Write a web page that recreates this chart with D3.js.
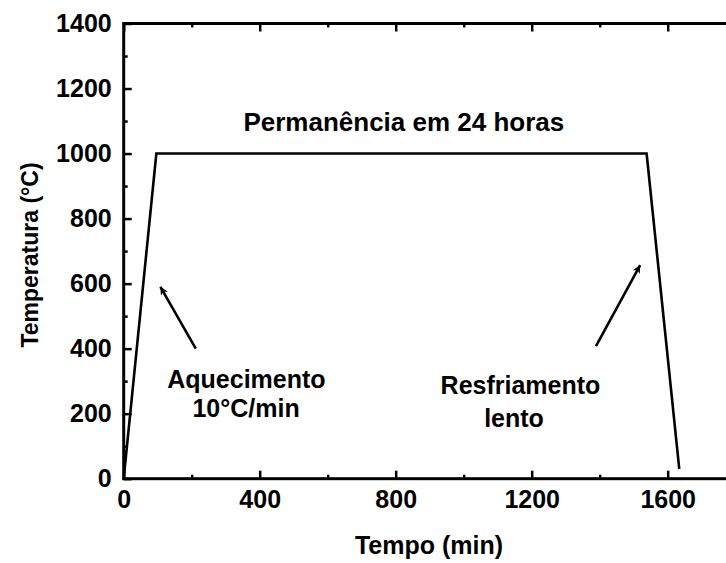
<!DOCTYPE html>
<html>
<head>
<meta charset="utf-8">
<script src="https://cdn.jsdelivr.net/npm/d3@7"></script>
<style>
  body { margin: 0; background: #fff; }
  text { font-family: "Liberation Sans", Arial, sans-serif; font-weight: bold; fill: #000; }
</style>
</head>
<body>
<svg id="chart"></svg>
<script>
// heat treatment profile (time in min, temperature in °C)
const time = [0, 96, 1538, 1634];
const temp = [0, 1000, 1000, 30];

const xMajor = [0, 400, 800, 1200, 1600];
const xMinor = [200, 600, 1000, 1400, 1800];
const yMajor = [0, 200, 400, 600, 800, 1000, 1200, 1400];
const yMinor = [100, 300, 500, 700, 900, 1100, 1300];

// arrows: tail -> head, in data units
const arrowFrom = [[212, 400], [1389, 408]];
const arrowTo = [[108, 590], [1519, 657]];

// annotation text, centred at [time, temp]
const noteText = ["Permanência em 24 horas", "Aquecimento", "10°C/min", "Resfriamento", "lento"];
const notePos = [[824, 1069], [361, 279], [360, 191], [1167, 260], [1148, 160]];
const noteSize = [26, 25, 25, 25, 25];

const width = 726, height = 563;
const svg = d3.select("#chart").attr("width", width).attr("height", height);

const x = d3.scaleLinear().domain([0, 1800]).range([123.7, 735.7]);
const y = d3.scaleLinear().domain([0, 1400]).range([478.7, 23.5]);

// frame
svg.append("rect")
    .attr("x", x(0)).attr("y", y(1400))
    .attr("width", x(1800) - x(0)).attr("height", y(0) - y(1400))
    .attr("fill", "none").attr("stroke", "#000").attr("stroke-width", 3);

function tickAxis(axis, vals, size, pad, labels) {
    return axis.tickValues(vals).tickSizeInner(-size).tickSizeOuter(0).tickPadding(pad)
        .tickFormat(labels ? d3.format("d") : "");
}
function styleAxis(g) {
    g.select(".domain").remove();
    g.selectAll(".tick line").attr("stroke", "#000").attr("stroke-width", 2.5);
    g.selectAll(".tick text").style("font-size", "25px");
}

// bottom axis
svg.append("g").attr("transform", `translate(0,${y(0)})`)
    .call(tickAxis(d3.axisBottom(x), xMajor, 8, 12, true)).call(styleAxis);
svg.append("g").attr("transform", `translate(0,${y(0)})`)
    .call(tickAxis(d3.axisBottom(x), xMinor, 4, 0, false)).call(styleAxis);
// top axis
svg.append("g").attr("transform", `translate(0,${y(1400)})`)
    .call(tickAxis(d3.axisTop(x), xMajor, 8, 0, false)).call(styleAxis);
svg.append("g").attr("transform", `translate(0,${y(1400)})`)
    .call(tickAxis(d3.axisTop(x), xMinor, 4, 0, false)).call(styleAxis);
// left axis
svg.append("g").attr("transform", `translate(${x(0)},0)`)
    .call(tickAxis(d3.axisLeft(y), yMajor, 8, 12, true)).call(styleAxis);
svg.append("g").attr("transform", `translate(${x(0)},0)`)
    .call(tickAxis(d3.axisLeft(y), yMinor, 4, 0, false)).call(styleAxis);

// profile line
const line = d3.line().x(d => x(d[0])).y(d => y(d[1]));
svg.append("path")
    .datum(d3.zip(time, temp))
    .attr("d", line)
    .attr("fill", "none").attr("stroke", "#000")
    .attr("stroke-width", 2.6).attr("stroke-linejoin", "miter");

// arrows
svg.append("defs").append("marker")
    .attr("id", "head").attr("viewBox", "0 0 10 10")
    .attr("refX", 10).attr("refY", 5)
    .attr("markerWidth", 12).attr("markerHeight", 8)
    .attr("markerUnits", "userSpaceOnUse").attr("orient", "auto")
    .append("path").attr("d", "M0,0 L10,5 L0,10 L3,5 Z").attr("fill", "#000");

svg.selectAll(".arrow")
    .data(d3.zip(arrowFrom, arrowTo))
    .join("line")
    .attr("class", "arrow")
    .attr("x1", d => x(d[0][0])).attr("y1", d => y(d[0][1]))
    .attr("x2", d => x(d[1][0])).attr("y2", d => y(d[1][1]))
    .attr("stroke", "#000").attr("stroke-width", 2.6)
    .attr("marker-end", "url(#head)");

// annotations
svg.selectAll(".note")
    .data(d3.zip(noteText, notePos, noteSize))
    .join("text")
    .attr("class", "note")
    .attr("x", d => x(d[1][0])).attr("y", d => y(d[1][1]))
    .attr("text-anchor", "middle")
    .style("font-size", d => d[2] + "px")
    .text(d => d[0]);

// axis titles
svg.append("text")
    .attr("x", 429).attr("y", 554)
    .attr("text-anchor", "middle").style("font-size", "25px")
    .text("Tempo (min)");
svg.append("text")
    .attr("transform", "translate(38,255) rotate(-90)")
    .attr("text-anchor", "middle").style("font-size", "23px")
    .text("Temperatura (°C)");
</script>
</body>
</html>
